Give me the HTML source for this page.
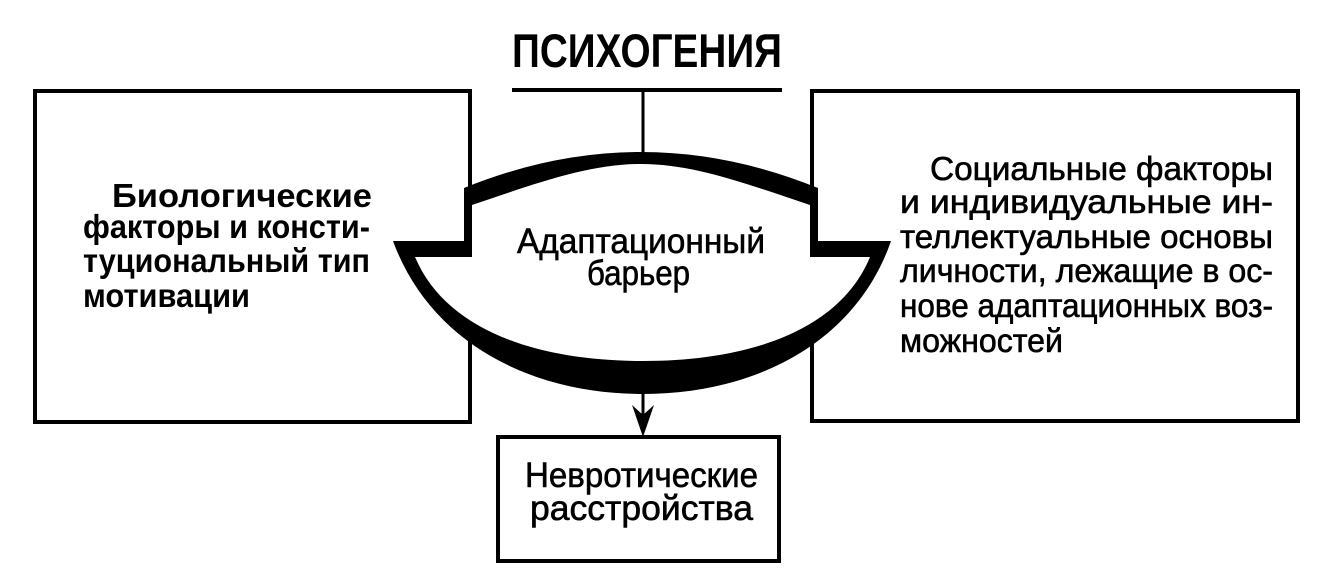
<!DOCTYPE html>
<html>
<head>
<meta charset="utf-8">
<style>
  html, body { margin: 0; padding: 0; background: #fff; }
  svg { display: block; }
  text { font-family: "Liberation Sans", "DejaVu Sans", sans-serif; fill: #000; }
  .b { font-weight: bold; }
  .r { font-weight: normal; stroke: #000; stroke-width: 0.6; }
</style>
</head>
<body>
<svg width="1324" height="571" viewBox="0 0 1324 571" xmlns="http://www.w3.org/2000/svg">
  <rect x="0" y="0" width="1324" height="571" fill="#fff"/>

  <!-- Title -->
  <text class="b" x="512" y="67" font-size="47" textLength="270" lengthAdjust="spacingAndGlyphs">ПСИХОГЕНИЯ</text>
  <line x1="512" y1="90" x2="782" y2="90" stroke="#000" stroke-width="4"/>
  <line x1="643" y1="90" x2="643" y2="156" stroke="#000" stroke-width="3"/>

  <!-- Left box -->
  <path d="M470 200 L470 91 L35 91 L35 422 L470 422 L470 330" fill="none" stroke="#000" stroke-width="4"/>
  <!-- Right box -->
  <path d="M812 200 L812 91 L1298 91 L1298 421 L812 421 L812 330" fill="none" stroke="#000" stroke-width="4"/>

  <!-- Adaptation barrier: black band -->
  <path fill="#000" fill-rule="evenodd" d="
    M464 188 Q641 116 818 188 L818 241 L891 241
    C856 342 756 394 643 394 C530 394 430 342 393 241 L464 241 Z
    M472 205 C540 182 590 164 641 164 C692 164 742 182 810 205 L810 257 L870 257
    C840 330 750 361 643 361 C536 361 446 330 415 257 L472 257 Z"/>

  <!-- Arrow to bottom box -->
  <line x1="643" y1="392" x2="643" y2="420" stroke="#000" stroke-width="3"/>
  <polygon points="632,405 643,415 654,405 643,437" fill="#000"/>

  <!-- Bottom box -->
  <rect x="498" y="437" width="281" height="124" fill="none" stroke="#000" stroke-width="4"/>

  <!-- Left text -->
  <text class="b" font-size="33" x="112" y="207" textLength="260" lengthAdjust="spacingAndGlyphs">Биологические</text>
  <text class="b" font-size="33" x="83" y="238" textLength="287" lengthAdjust="spacingAndGlyphs">факторы и консти-</text>
  <text class="b" font-size="33" x="83" y="272" textLength="287" lengthAdjust="spacingAndGlyphs">туциональный тип</text>
  <text class="b" font-size="33" x="83" y="307" textLength="167" lengthAdjust="spacingAndGlyphs">мотивации</text>

  <!-- Right text -->
  <text class="r" font-size="33" x="930" y="180" textLength="343" lengthAdjust="spacingAndGlyphs">Социальные факторы</text>
  <text class="r" font-size="33" x="900" y="213" textLength="373" lengthAdjust="spacingAndGlyphs">и индивидуальные ин-</text>
  <text class="r" font-size="33" x="900" y="248" textLength="373" lengthAdjust="spacingAndGlyphs">теллектуальные основы</text>
  <text class="r" font-size="33" x="900" y="282" textLength="373" lengthAdjust="spacingAndGlyphs">личности, лежащие в ос-</text>
  <text class="r" font-size="33" x="900" y="317" textLength="373" lengthAdjust="spacingAndGlyphs">нове адаптационных воз-</text>
  <text class="r" font-size="33" x="900" y="352" textLength="163" lengthAdjust="spacingAndGlyphs">можностей</text>

  <!-- Center text -->
  <text class="r" font-size="35" x="517" y="253" textLength="248" lengthAdjust="spacingAndGlyphs">Адаптационный</text>
  <text class="r" font-size="35" x="587" y="285" textLength="103" lengthAdjust="spacingAndGlyphs">барьер</text>

  <!-- Bottom text -->
  <text class="r" font-size="35" x="525" y="487" textLength="233" lengthAdjust="spacingAndGlyphs">Невротические</text>
  <text class="r" font-size="35" x="530" y="520" textLength="223" lengthAdjust="spacingAndGlyphs">расстройства</text>
</svg>
</body>
</html>
